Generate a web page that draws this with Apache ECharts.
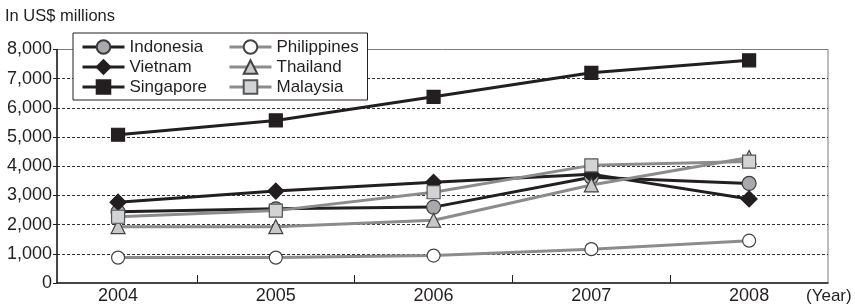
<!DOCTYPE html>
<html>
<head>
<meta charset="utf-8">
<script src="https://cdn.jsdelivr.net/npm/echarts@6/dist/echarts.min.js"></script>
<style>
  html, body { margin: 0; padding: 0; background: #fff; }
  #chart { width: 855px; height: 305px; }
</style>
</head>
<body>
<div id="chart"></div>
<script>
// values, US$ millions
var years = [2004, 2005, 2006, 2007, 2008];
var indonesia   = [2440, 2540, 2600, 3620, 3410];
var philippines = [870, 870, 940, 1160, 1450];
var vietnam     = [2770, 3150, 3450, 3730, 2880];
var thailand    = [1930, 1930, 2150, 3360, 4300];
var singapore   = [5080, 5570, 6380, 7200, 7630];
var malaysia    = [2270, 2480, 3110, 4030, 4160];
var yTicks = [0, 1000, 2000, 3000, 4000, 5000, 6000, 7000, 8000];
var xTicks = [2004.5, 2005.5, 2006.5, 2007.5];

var ink = '#231f20';
var grey = '#8c8c8c';
var font = 'Liberation Sans, Arial, sans-serif';

function pairs(vals) {
  return years.map(function (y, i) { return [y, vals[i]]; });
}

function mk(name, vals, lineColor, symbol, fill, border, size, z) {
  return {
    name: name,
    type: 'line',
    data: pairs(vals),
    symbol: symbol,
    symbolSize: size,
    z: z,
    lineStyle: { color: lineColor, width: 3 },
    itemStyle: { color: fill, borderColor: border, borderWidth: 1.2 },
    emphasis: { disabled: true }
  };
}

var chart = echarts.init(document.getElementById('chart'));

var legendText = { fontFamily: font, fontSize: 17, color: ink, lineHeight: 20, width: 80 };

chart.setOption({
  animation: false,
  title: [
    { text: 'In US$ millions', left: 0, top: 3,
      textStyle: { fontFamily: font, fontSize: 16.5, fontWeight: 'normal', color: ink } },
    { text: '(Year)', left: 801, top: 283,
      textStyle: { fontFamily: font, fontSize: 17, fontWeight: 'normal', color: ink } }
  ],
  legend: [
    {
      data: ['Indonesia', 'Vietnam', 'Singapore'],
      orient: 'vertical',
      left: 73, top: 33,
      padding: [4, 158, 3, 8],
      itemGap: 0,
      itemWidth: 42, itemHeight: 17,
      backgroundColor: '#fff',
      borderColor: ink, borderWidth: 1,
      lineStyle: { width: 3 },
      textStyle: legendText
    },
    {
      data: ['Philippines', 'Thailand', 'Malaysia'],
      orient: 'vertical',
      left: 220, top: 33,
      padding: [4, 0, 3, 8],
      itemGap: 0,
      itemWidth: 42, itemHeight: 17,
      lineStyle: { width: 3 },
      textStyle: legendText
    }
  ],
  grid: {
    left: 57, right: 27, top: 49.5, bottom: 20,
    show: true, borderColor: '#7a7a7a', borderWidth: 1
  },
  xAxis: {
    type: 'value',
    min: 2003.613,
    max: 2008.5,
    axisLine: { lineStyle: { color: ink, width: 1.5 } },
    axisTick: { show: true, inside: true, length: 8, customValues: xTicks,
      lineStyle: { color: ink, width: 1 } },
    axisLabel: { customValues: years, margin: 4, fontFamily: font, fontSize: 18, color: ink,
      formatter: function (v) { return String(v); } },
    splitLine: { show: false }
  },
  yAxis: {
    type: 'value',
    min: 0, max: 8000, interval: 1000,
    axisLine: { show: true, lineStyle: { color: ink, width: 1.5 } },
    axisTick: { show: true, length: 4, customValues: yTicks, lineStyle: { color: ink } },
    axisLabel: { margin: 5, fontFamily: font, fontSize: 18, color: ink, customValues: yTicks,
      formatter: function (v) { return v.toLocaleString('en-US'); } },
    splitLine: { show: true, showMinLine: false, showMaxLine: false,
      lineStyle: { color: '#333', type: [3, 2], width: 1 } }
  },
  series: [
    mk('Indonesia', indonesia, ink, 'circle', '#a7a9ac', '#3a3a3a', 14, 3),
    mk('Philippines', philippines, grey, 'circle', '#ffffff', '#444', 13, 2),
    mk('Vietnam', vietnam, ink, 'diamond', ink, ink, 16, 4),
    mk('Thailand', thailand, grey, 'triangle', '#c8c8c8', '#444', 14, 5),
    mk('Singapore', singapore, ink, 'rect', ink, ink, 13, 4),
    mk('Malaysia', malaysia, grey, 'rect', '#d2d3d4', '#555', 13, 6)
  ]
});
</script>
</body>
</html>
